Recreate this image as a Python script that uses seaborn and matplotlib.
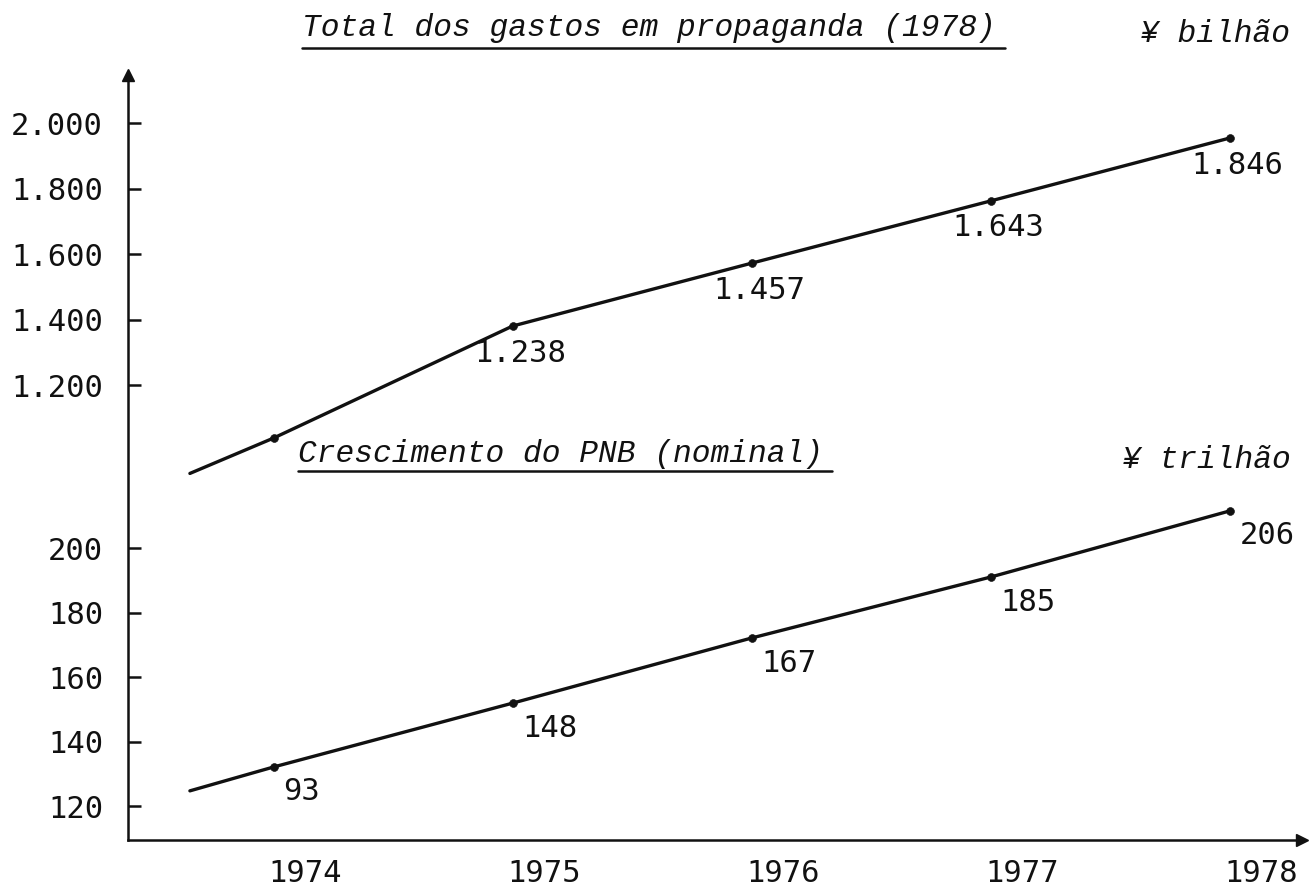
import matplotlib
matplotlib.use("Agg")
import matplotlib.pyplot as plt
import matplotlib.transforms as mtransforms
from matplotlib.lines import Line2D
import pandas as pd
import seaborn as sns

# ---------------- dados ----------------
anos = [1974, 1975, 1976, 1977, 1978]
inicio_ano = 1973.65  # a linha começa um pouco antes de 1974

# Total dos gastos em propaganda (¥ bilhão): posição desenhada + rótulo escrito
gastos_inicio = 930
gastos_valores = [1038, 1380, 1572, 1762, 1954]
gastos_rotulos = ["", "1.238", "1.457", "1.643", "1.846"]

# Crescimento do PNB nominal (¥ trilhão)
pnb_inicio = 124.7
pnb_valores = [132.1, 151.9, 172.1, 191.0, 211.5]
pnb_rotulos = ["93", "148", "167", "185", "206"]

ticks_gastos = [1200, 1400, 1600, 1800, 2000]
ticks_pnb = [120, 140, 160, 180, 200]

titulo_gastos = "Total dos gastos em propaganda (1978)"
titulo_pnb = "Crescimento do PNB (nominal)"
unidade_gastos = "¥ bilhão"
unidade_pnb = "¥ trilhão"

TINTA = "#111111"

# ---------------- figura ----------------
sns.set_theme(style="white")
plt.rcParams["font.family"] = ["DejaVu Sans Mono", "DejaVu Sans"]
plt.rcParams["text.color"] = TINTA
plt.rcParams["xtick.color"] = TINTA
plt.rcParams["ytick.color"] = TINTA

W, H = 1310, 886
fig = plt.figure(figsize=(W / 100, H / 100), dpi=100)
ax = fig.add_axes([128 / W, 46 / H, 1174 / W, 765 / H])
ax2 = ax.twinx()

df_pnb = pd.DataFrame({"ano": [inicio_ano] + anos, "valor": [pnb_inicio] + pnb_valores})
df_gastos = pd.DataFrame({"ano": [inicio_ano] + anos, "valor": [gastos_inicio] + gastos_valores})

sns.lineplot(data=df_pnb, x="ano", y="valor", ax=ax, color=TINTA, lw=2.4)
sns.scatterplot(x=anos, y=pnb_valores, ax=ax, color=TINTA, s=32,
                edgecolor=TINTA, zorder=3)
sns.lineplot(data=df_gastos, x="ano", y="valor", ax=ax2, color=TINTA, lw=2.4)
sns.scatterplot(x=anos, y=gastos_valores, ax=ax2, color=TINTA, s=32,
                edgecolor=TINTA, zorder=3)

# escalas
ax.set_xlim(1973.391, 1978.303)
ax.set_ylim(109.46, 346.7)
ax2.set_ylim(-189.3, 2146.6)

ax.set_xlabel("")
ax.set_ylabel("")
ax2.set_ylabel("")

# eixo x: anos
ax.set_xticks(anos)
ax.set_xticklabels([str(a) for a in anos])
ax.tick_params(axis="x", bottom=True, length=0, pad=14, labelsize=22,
               labelcolor=TINTA)
deslocamento = mtransforms.ScaledTranslation(0.32, 0, fig.dpi_scale_trans)
for lbl in ax.get_xticklabels():
    lbl.set_transform(lbl.get_transform() + deslocamento)

# eixo y inferior (PNB)
ax.set_yticks(ticks_pnb)
ax.set_yticklabels([str(t) for t in ticks_pnb])
ax.tick_params(axis="y", left=True, direction="in", length=9.5, width=1.8,
               pad=18, labelsize=22, labelcolor=TINTA, color=TINTA)

# eixo y superior (gastos), também à esquerda
ax2.yaxis.tick_left()
ax2.set_yticks(ticks_gastos)
ax2.set_yticklabels([f"{t:,}".replace(",", ".") for t in ticks_gastos])
ax2.tick_params(axis="y", left=True, right=False, labelleft=True, labelright=False,
                direction="in", length=9.5, width=1.8, pad=18, labelsize=22,
                labelcolor=TINTA, color=TINTA)

for s in ["top", "right"]:
    ax.spines[s].set_visible(False)
for s in ax2.spines.values():
    s.set_visible(False)
for s in ["left", "bottom"]:
    ax.spines[s].set_linewidth(1.8)
    ax.spines[s].set_color(TINTA)

# setas dos eixos
ax.plot(0, 1, marker="^", color=TINTA, ms=8, transform=ax.transAxes, clip_on=False)
ax.plot(1, 0, marker=">", color=TINTA, ms=8, transform=ax.transAxes, clip_on=False)

# rótulos dos pontos
for ano, v, r in zip(anos, gastos_valores, gastos_rotulos):
    if r:
        ax2.annotate(r, (ano, v), xytext=(-38, -27), textcoords="offset pixels",
                     ha="left", va="center", fontsize=22, color=TINTA)
for ano, v, r in zip(anos, pnb_valores, pnb_rotulos):
    ax.annotate(r, (ano, v), xytext=(10, -25), textcoords="offset pixels",
                ha="left", va="center", fontsize=22, color=TINTA)

# títulos sublinhados e unidades
estilo = dict(family=["Liberation Mono", "DejaVu Sans Mono"], style="italic",
              fontsize=22.5, color=TINTA, va="center")
fig.text(302 / W, 1 - 28 / H, titulo_gastos, **estilo)
fig.add_artist(Line2D([302 / W, 1005 / W], [1 - 48 / H] * 2, color=TINTA, lw=1.8))
fig.text(298 / W, 1 - 454 / H, titulo_pnb, **estilo)
fig.add_artist(Line2D([298 / W, 832 / W], [1 - 471 / H] * 2, color=TINTA, lw=1.8))
fig.text(1140 / W, 1 - 34 / H, unidade_gastos, **estilo)
fig.text(1122 / W, 1 - 460 / H, unidade_pnb, **estilo)

fig.savefig("out.png", dpi=100, facecolor="white")
